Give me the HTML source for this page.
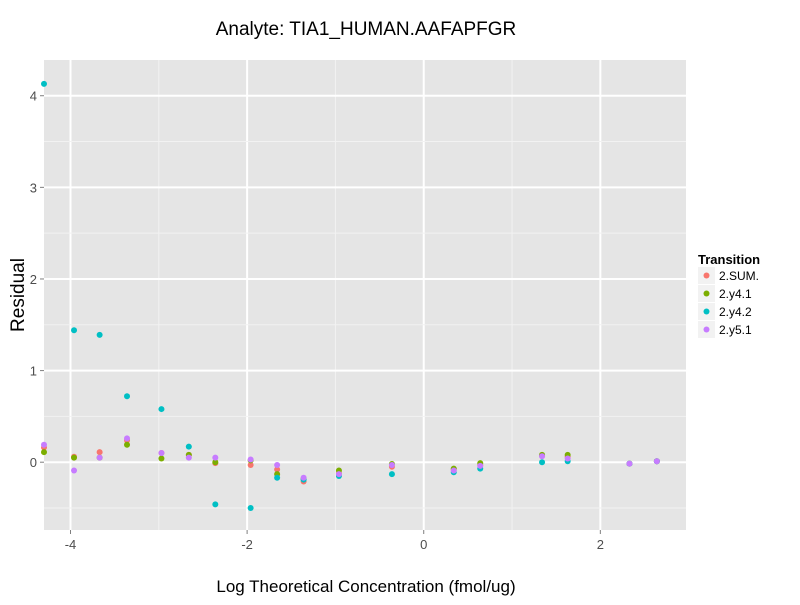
<!DOCTYPE html>
<html><head><meta charset="utf-8"><style>
body{margin:0;background:#fff;font-family:"Liberation Sans",sans-serif}
</style></head><body>
<svg id="chart" width="800" height="600" xmlns="http://www.w3.org/2000/svg" font-family="Liberation Sans, sans-serif">
<rect width="800" height="600" fill="#fff"/>
<text x="366" y="35" font-size="19" text-anchor="middle">Analyte: TIA1_HUMAN.AAFAPFGR</text>
<rect x="44" y="60" width="642" height="470" fill="#e5e5e5"/>
<g id="grid"></g>
<g id="pts"></g>
<g id="axes"></g>
<text x="366" y="592" font-size="17" text-anchor="middle">Log Theoretical Concentration (fmol/ug)</text>
<text transform="translate(24,295) rotate(-90)" font-size="19" text-anchor="middle">Residual</text>
<g id="legend">
<text x="698" y="264" font-size="13" font-weight="bold">Transition</text>
</g>
</svg>
<script>
const xs=[-4.3,-3.96,-3.67,-3.36,-2.97,-2.66,-2.36,-1.96,-1.66,-1.36,-0.96,-0.36,0.34,0.64,1.34,1.63,2.33,2.64];
const seriesNames=["2.SUM.","2.y4.1","2.y4.2","2.y5.1"];
const colors=["#f8766d","#7cae00","#00bfc4","#c77cff"];
const sumVals=[0.16,0.06,0.11,0.24,0.10,0.08,-0.01,-0.03,-0.08,-0.21,-0.12,-0.05,-0.08,-0.03,0.07,0.06,-0.015,0.01];
const y41Vals=[0.11,0.05,0.05,0.19,0.04,0.08,0.0,0.02,-0.13,-0.18,-0.09,-0.02,-0.07,-0.01,0.08,0.08,-0.015,0.01];
const y42Vals=[4.13,1.44,1.39,0.72,0.58,0.17,-0.46,-0.50,-0.17,-0.19,-0.15,-0.13,-0.11,-0.07,0.0,0.01,-0.015,0.01];
const y51Vals=[0.19,-0.09,0.05,0.26,0.10,0.05,0.05,0.03,-0.03,-0.17,-0.13,-0.03,-0.09,-0.04,0.065,0.04,-0.015,0.01];
const xTicks=[-4,-2,0,2];
const yTicks=[0,1,2,3,4];
const X0=44,X1=686,Y0=530,Y1=60,xmin=-4.3,xmax=2.97,ymin=-0.74,ymax=4.39;
const sx=v=>X0+(v-xmin)/(xmax-xmin)*(X1-X0);
const sy=v=>Y0-(v-ymin)/(ymax-ymin)*(Y0-Y1);
const NS="http://www.w3.org/2000/svg";
function mk(t,a,p){const e=document.createElementNS(NS,t);for(const k in a)e.setAttribute(k,a[k]);p.appendChild(e);return e;}
const grid=document.getElementById('grid'),axes=document.getElementById('axes'),pts=document.getElementById('pts');
xTicks.forEach((t,i)=>{
 if(i<xTicks.length-1){const m=(t+xTicks[i+1])/2;const l=mk('line',{x1:sx(m),x2:sx(m),y1:Y1,y2:Y0,stroke:'#f2f2f2','stroke-width':1},grid);
 
 }
 const g=mk('line',{x1:sx(t),x2:sx(t),y1:Y1,y2:Y0,stroke:'#fff','stroke-width':2},grid);
 
 
 mk('line',{x1:sx(t),x2:sx(t),y1:Y0,y2:Y0+4,stroke:'#7f7f7f'},axes);
 const tx=mk('text',{x:sx(t),y:Y0+19,'font-size':13,fill:'#4d4d4d','text-anchor':'middle'},axes);tx.textContent=t;
 
 
});
yTicks.forEach((t,i)=>{
 const m=t+0.5;
 if(m<ymax){const l=mk('line',{x1:X0,x2:X1,y1:sy(m),y2:sy(m),stroke:'#f2f2f2','stroke-width':1},grid);
 
 }
 const g=mk('line',{x1:X0,x2:X1,y1:sy(t),y2:sy(t),stroke:'#fff','stroke-width':2},grid);
 
 
 mk('line',{x1:X0-4,x2:X0,y1:sy(t),y2:sy(t),stroke:'#7f7f7f'},axes);
 const tx=mk('text',{x:X0-7,y:sy(t)+5,'font-size':13,fill:'#4d4d4d','text-anchor':'end'},axes);tx.textContent=t;
 
 
});
const ml=mk('line',{x1:X0,x2:X1,y1:sy(-0.5),y2:sy(-0.5),stroke:'#f2f2f2'},grid);
[sumVals,y41Vals,y42Vals,y51Vals].forEach((vals,s)=>{
 vals.forEach((v,i)=>{
  const c=mk('circle',{cx:sx(xs[i]),cy:sy(v),r:3,fill:colors[s]},pts);
  
  
 });
});
const leg=document.getElementById('legend');
seriesNames.forEach((n,i)=>{
 const y=276+i*18;
 mk('rect',{x:698,y:y-9,width:17,height:17,fill:'#f2f2f2'},leg);
 const c=mk('circle',{cx:706.5,cy:y-0.5,r:3,fill:colors[i]},leg);
 
 
 const t=mk('text',{x:719,y:y+4,'font-size':12},leg);t.textContent=n;
 
 
});
</script>
</body></html>
